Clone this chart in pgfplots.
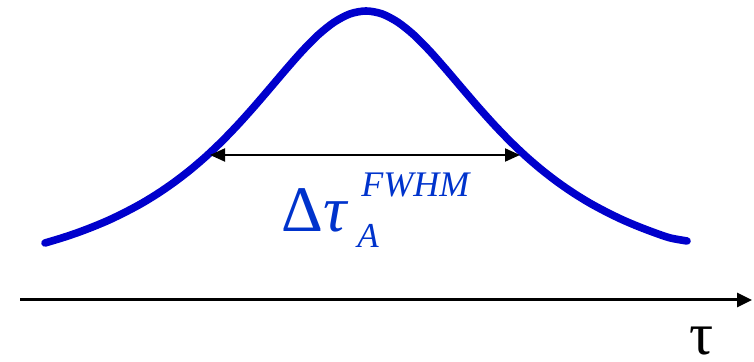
\documentclass[border=0pt]{standalone}
\usepackage{fontspec}
\setmainfont{Liberation Serif}
\usepackage{pgfplots}
\pgfplotsset{compat=1.18}
\usetikzlibrary{arrows.meta}

\definecolor{curveblue}{HTML}{0000CC}
\definecolor{labelblue}{HTML}{0033CC}

\begin{document}
\begin{tikzpicture}
\begin{axis}[
  hide axis, scale only axis,
  width=377pt, height=181pt,
  xmin=0, xmax=754, ymin=-62, ymax=300,
  clip=false,
]
% pulse profile (pixel-based coordinates, axis line at y=0)
\addplot[curveblue, line width=3.8pt, line cap=round, line join=round, smooth] coordinates {
  (45,57.0)(62,62.1)(78,67.5)(94,73.6)(110,80.4)(126,88.2)(142,96.8)(158,106.6)
  (174,117.6)(190,129.9)(206,143.6)(222,158.8)(238,175.4)(254,193.2)(270,211.8)
  (286,230.6)(302,248.7)(318,264.9)(334,277.7)(350,286.1)(366,289.0)(382,286.1)
  (398,277.7)(414,264.9)(430,248.7)(446,230.6)(462,211.8)(478,193.2)(494,175.4)
  (510,158.8)(526,143.6)(542,129.9)(558,117.6)(574,106.6)(590,96.8)(606,88.2)
  (622,80.4)(638,73.6)(654,67.5)(670,62.1)(687,59.0)};
% FWHM arrow
\addplot[black, line width=1pt,
  {Triangle[length=7.5pt,width=6.5pt]}-{Triangle[length=7.5pt,width=6.5pt]}]
  coordinates {(210,145)(520,145)};
% time axis
\addplot[black, line width=1.5pt, -{Triangle[length=7.5pt,width=7pt]}]
  coordinates {(20,0)(752,0)};
\node[anchor=base west, inner sep=0pt, text=labelblue, font=\fontsize{32.5}{33}\selectfont]
  at (axis cs:281,68) {Δ\textit{τ}};
\node[anchor=base west, inner sep=0pt, text=labelblue, font=\fontsize{18}{19}\selectfont\itshape]
  at (axis cs:361,103) {FWHM};
\node[anchor=base west, inner sep=0pt, text=labelblue, font=\fontsize{17.5}{18}\selectfont\itshape]
  at (axis cs:357,52) {A};
\node[anchor=base west, inner sep=0pt, font=\fontsize{30}{31}\selectfont]
  at (axis cs:689,-55) {τ};
\end{axis}
\path (current axis.south west) rectangle (current axis.north east);
\end{tikzpicture}
\end{document}
